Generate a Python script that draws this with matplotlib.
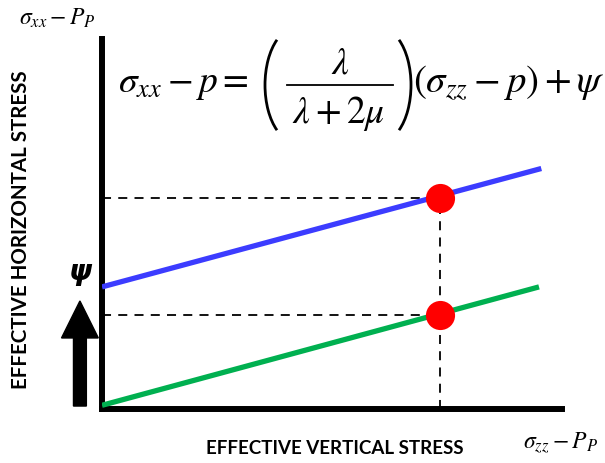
import matplotlib
matplotlib.use('Agg')
import matplotlib.pyplot as plt
from matplotlib.patches import FancyArrow, Arc
from matplotlib.lines import Line2D

plt.rcParams['mathtext.fontset'] = 'stix'

# line end points (x, y) in arbitrary stress units
green_x = [0.0, 9.5]
green_y = [0.1, 3.3]
blue_x = [0.0, 9.55]
blue_y = [3.3, 6.5]

# points picked on the two lines
dot_x = [7.35, 7.35]
dot_y = [2.55, 5.7]

psi_arrow = (0.08, 2.92)   # bottom / top of the psi arrow

xlabel = "EFFECTIVE VERTICAL STRESS"
ylabel = "EFFECTIVE HORIZONTAL STRESS"
eq_left = r"$\sigma_{xx} - p =$"
eq_num = r"$\lambda$"
eq_den = r"$\lambda + 2\mu$"
eq_right = r"$(\sigma_{zz} - p) + \psi$"

W, H = 605, 464
fig = plt.figure(figsize=(W / 100, H / 100), dpi=100)


def fx(px):
    return px / W


def fy(py):
    # pixel measured from the top
    return 1 - py / H


ax = fig.add_axes([fx(102), fy(410), (562 - 102) / W, (410 - 40) / H])
ax.set_xlim(0, 10)
ax.set_ylim(0, 10)

for s in ['top', 'right']:
    ax.spines[s].set_visible(False)
for s in ['left', 'bottom']:
    ax.spines[s].set_linewidth(4.3)
    ax.spines[s].set_capstyle('projecting')
ax.set_xticks([])
ax.set_yticks([])

# dashed guides
for x, y in zip(dot_x, dot_y):
    ax.plot([0, x], [y, y], color='black', lw=1.3, ls=(0, (5, 4)), zorder=2)
ax.plot([dot_x[1], dot_x[1]], [0, dot_y[1]], color='black', lw=1.3,
        ls=(0, (5, 4)), zorder=2)

ax.plot(green_x, green_y, color='#00b050', lw=3.8, solid_capstyle='butt', zorder=3)
ax.plot(blue_x, blue_y, color='#3c3cff', lw=3.8, solid_capstyle='butt', zorder=3)
ax.scatter(dot_x, dot_y, s=440, color='#ff0000', zorder=4, linewidths=0)

# psi arrow left of the axis
arr = FancyArrow(-0.48, psi_arrow[0], 0, psi_arrow[1] - psi_arrow[0],
                 width=0.28, head_width=0.8, head_length=1.0,
                 length_includes_head=True, color='black', clip_on=False)
ax.add_patch(arr)
ax.text(-0.48, 3.72, "ψ", fontsize=21, fontweight='bold', style='italic',
        family='DejaVu Sans', ha='center', va='center', clip_on=False)

# axis titles
fig.text(fx(21), fy(230), ylabel, rotation=90, fontsize=14.8,
         fontweight='bold', family='Lato', ha='center', va='center')
fig.text(fx(335), fy(449), xlabel, fontsize=13.5, fontweight='bold',
         family='Lato', ha='center', va='center')

# equation, built from pieces so the big brackets match the original
eq_fs = 27
fig.text(fx(118), fy(92), eq_left, fontsize=eq_fs, ha='left', va='baseline')
fig.text(fx(340), fy(73), eq_num, fontsize=eq_fs, ha='center', va='baseline')
fig.text(fx(339), fy(123), eq_den, fontsize=eq_fs, ha='center', va='baseline')
fig.add_artist(Line2D([fx(287), fx(393)], [fy(86), fy(86)], color='black',
                      lw=1.3, transform=fig.transFigure))
fig.add_artist(Arc((fx(295), fy(86)), 60 / W, 113 / H, theta1=107, theta2=253,
                   lw=2.0, color='black', transform=fig.transFigure))
fig.add_artist(Arc((fx(381), fy(86)), 60 / W, 113 / H, theta1=-73, theta2=73,
                   lw=2.0, color='black', transform=fig.transFigure))
fig.text(fx(413), fy(92), eq_right, fontsize=28, ha='left', va='baseline')

fig.text(fx(57), fy(18), r"$\sigma_{xx} - P_P$", fontsize=17,
         ha='center', va='center')
fig.text(fx(561), fy(443), r"$\sigma_{zz} - P_P$", fontsize=17,
         ha='center', va='center')

fig.savefig("out.png", dpi=100)
